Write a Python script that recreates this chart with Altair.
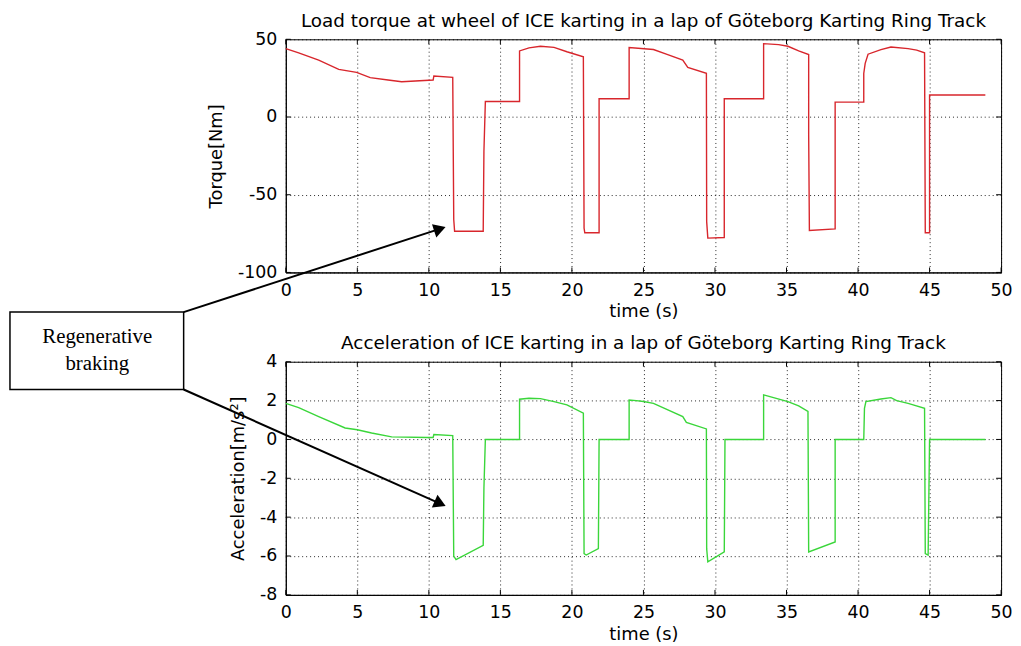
import altair as alt
import pandas as pd

# ---------------- data ----------------
time_ticks = [0, 5, 10, 15, 20, 25, 30, 35, 40, 45, 50]
torque_ticks = [-100, -50, 0, 50]
accel_ticks = [-8, -6, -4, -2, 0, 2, 4]

torque_t = [0, 0.9, 2.3, 3.7, 4.95, 5.9, 7.15, 8.1, 10.3, 10.35, 11.67, 11.74, 11.8, 13.8,
            13.85, 13.95, 16.34, 16.34, 17.0, 17.8, 18.75, 19.65, 20.8, 20.85, 20.9, 21.9,
            21.9, 24.0, 24.0, 25.7, 26.6, 27.75, 28.1, 29.4, 29.42, 29.5, 30.65, 30.65,
            33.4, 33.4, 34.45, 35.1, 35.85, 36.55, 36.55, 36.6, 38.4, 38.4, 40.4, 40.4,
            40.5, 40.7, 41.6, 42.3, 43.5, 44.1, 44.65, 44.7, 45.0, 45.0, 48.9]
torque_v = [44, 41.3, 36.6, 30.6, 28.7, 25.3, 23.8, 22.7, 23.8, 26.4, 25.5, -66, -73.5, -73.5,
            -22, 10, 10, 42.5, 44.5, 45.5, 44.8, 42, 38.7, -71.5, -74.5, -74.5,
            11.7, 11.7, 44.7, 43.4, 40.4, 36.6, 31.9, 28.1, -67.3, -77.9, -77.5, 11.7,
            11.7, 47.2, 46.6, 45.5, 42.5, 40.2, -11.3, -73, -72, 9.6, 9.6, 28,
            34.5, 40.4, 43.4, 45, 44, 43, 41.3, -74.5, -74.5, 14.2, 14.2]

accel_t = [0, 0.9, 2.3, 4.15, 5.0, 6.0, 7.4, 9.9, 10.3, 10.35, 11.67, 11.74, 11.9, 13.8,
           13.85, 13.95, 16.34, 16.34, 17.0, 17.8, 18.75, 19.65, 20.8, 20.85, 21.0, 21.85,
           21.9, 24.0, 24.0, 24.5, 25.0, 25.7, 27.75, 28.0, 29.4, 29.42, 29.5, 30.65, 30.7,
           33.4, 33.4, 35.1, 35.85, 36.5, 36.55, 38.4, 38.4, 40.4, 40.45, 40.55, 41.6,
           42.3, 42.7, 43.5, 44.65, 44.7, 44.9, 45.0, 48.9]
accel_v = [1.86, 1.64, 1.18, 0.59, 0.5, 0.33, 0.13, 0.1, 0.1, 0.25, 0.2, -6.0, -6.18, -5.45,
           -2.5, 0, 0, 2.07, 2.12, 2.1, 1.95, 1.78, 1.35, -5.88, -5.95, -5.62,
           0, 0, 2.03, 2.0, 1.95, 1.86, 1.18, 0.88, 0.54, -5.62, -6.3, -5.79, 0,
           0, 2.29, 1.95, 1.73, 1.44, -5.79, -5.28, 0, 0, 1.6, 1.95, 2.08,
           2.15, 2.0, 1.86, 1.6, -5.88, -5.95, 0, 0]

title_top = "Load torque at wheel of ICE karting in a lap of Göteborg Karting Ring Track"
title_bot = "Acceleration of ICE karting in a lap of Göteborg Karting Ring Track"
ytitle_top = "Torque[Nm]"
ytitle_bot = "Acceleration[m/s²]"
xtitle = "time (s)"
note_lines = ["Regenerative", "braking"]

# annotation anchors in data units of each panel
box_t, box_t2 = -19.28, -7.14
box_v, box_v2 = -125.5, -175.3
note_t = -13.18
note_v = [-145.3, -162.6]
arrow_top = dict(t=-7.14, v=-125.5, t2=10.77, v2=-72.0)
arrow_bot = dict(t=-7.14, v=2.57, t2=10.79, v2=-3.302)

# ---------------- chart ----------------
W, H = 721, 235
FONT = "DejaVu Sans"
LFS = 17.5
TFS = 18
HFS = 18.5


def panel(t, v, color, ydom, yticks, ytitle, title, extra_fn):
    df = pd.DataFrame({"t": t, "v": v, "i": list(range(len(t)))})
    xs = alt.Scale(domain=[0, 50], nice=False, zero=False)
    ys = alt.Scale(domain=ydom, nice=False, zero=False)
    xaxis = alt.Axis(values=time_ticks, title=xtitle, grid=True, ticks=False, tickSize=0,
                     labelPadding=9, titlePadding=4, labelExpr="'' + datum.value")
    yaxis = alt.Axis(values=yticks, title=ytitle, grid=True, ticks=False, tickSize=0,
                     labelPadding=9, titlePadding=12, labelExpr="'' + datum.value",
                     titleLimit=1000)
    X = alt.X("t:Q", scale=xs, axis=xaxis)
    Y = alt.Y("v:Q", scale=ys, axis=yaxis)

    line = alt.Chart(df).mark_line(color=color, strokeWidth=1.4).encode(
        x=X, y=Y, order=alt.Order("i:Q"))
    xt = pd.DataFrame({"t": time_ticks})
    yt = pd.DataFrame({"v": yticks})
    bt = alt.Chart(xt).mark_rule(color="black").encode(x=X, y=alt.value(H), y2=alt.value(H - 5))
    tt = alt.Chart(xt).mark_rule(color="black").encode(x=X, y=alt.value(0), y2=alt.value(5))
    lt = alt.Chart(yt).mark_rule(color="black").encode(y=Y, x=alt.value(0), x2=alt.value(5))
    rt = alt.Chart(yt).mark_rule(color="black").encode(y=Y, x=alt.value(W), x2=alt.value(W - 5))
    layers = [line, bt, tt, lt, rt] + extra_fn(X, Y)
    return alt.layer(*layers).properties(width=W, height=H, title=title)


def arrow(X, Y, a, angle):
    d = pd.DataFrame({"t": [a["t"]], "v": [a["v"]], "t2": [a["t2"]], "v2": [a["v2"]]})
    shaft = alt.Chart(d).mark_rule(color="black", strokeWidth=2, clip=False).encode(
        x=X, y=Y, x2="t2:Q", y2="v2:Q")
    hd = pd.DataFrame({"t": [a["t2"]], "v": [a["v2"]]})
    head = alt.Chart(hd).mark_point(shape="triangle-up", filled=True, size=196, opacity=1,
                                    color="black", angle=angle, clip=False).encode(x=X, y=Y)
    return [shaft, head]


def top_extra(X, Y):
    bd = pd.DataFrame({"t": [box_t], "t2": [box_t2], "v": [box_v], "v2": [box_v2]})
    box = alt.Chart(bd).mark_rect(fill="white", stroke="black", strokeWidth=1.5,
                                  clip=False).encode(x=X, x2="t2:Q", y=Y, y2="v2:Q")
    nd = pd.DataFrame({"t": [note_t] * 2, "v": note_v, "txt": note_lines})
    txt = alt.Chart(nd).mark_text(font="Liberation Serif", fontSize=21, color="black",
                                  align="center", baseline="alphabetic", clip=False).encode(
        x=X, y=Y, text="txt:N")
    return arrow(X, Y, arrow_top, 72) + [box, txt]


def bot_extra(X, Y):
    return arrow(X, Y, arrow_bot, 114)


top = panel(torque_t, torque_v, "#d8262c", [-100, 50], torque_ticks, ytitle_top, title_top, top_extra)
bot = panel(accel_t, accel_v, "#3ad63a", [-8, 4], accel_ticks, ytitle_bot, title_bot, bot_extra)

chart = alt.vconcat(top, bot, spacing=90, bounds="flush").properties(
    padding={"left": 0, "top": 0, "right": 0, "bottom": 0}
).configure_view(
    stroke="black", strokeWidth=1
).configure_axis(
    labelFont=FONT, labelFontSize=LFS, labelColor="black",
    titleFont=FONT, titleFontSize=TFS, titleFontWeight="normal", titleColor="black",
    domainColor="black", gridColor="black", gridDash=[1, 3], gridOpacity=0.85,
    labelFlush=False, labelOverlap=False, labelBound=False
).configure_title(
    font=FONT, fontSize=HFS, fontWeight="normal", color="black",
    frame="group", baseline="alphabetic", offset=0.3
)

chart.save("out.html", embed_options={"renderer": "svg", "actions": False})
